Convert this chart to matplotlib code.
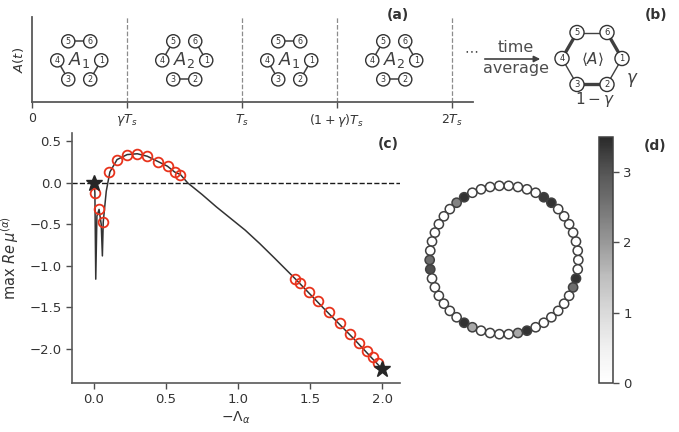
import numpy as np
import matplotlib
matplotlib.use('Agg')
import matplotlib.pyplot as plt
from matplotlib.patches import Circle, FancyArrowPatch
from matplotlib.cm import ScalarMappable
from matplotlib.colors import Normalize, LinearSegmentedColormap

W, H = 679, 432

# ============================================================
# data
# ============================================================
gamma = 0.45

# (a) switching sequence A1 -> A2 -> A1 -> A2
seg_names = [r'$A_1$', r'$A_2$', r'$A_1$', r'$A_2$']
seg_bounds = [0.0, gamma, 1.0, 1.0 + gamma, 2.0]
a_tick_labels = ['0', r'$\gamma T_s$', r'$T_s$', r'$(1+\gamma)T_s$', r'$2T_s$']
edges_A1 = [(5, 6), (4, 3), (2, 1)]
edges_A2 = [(5, 4), (6, 1), (3, 2)]

# (c) max Re mu vs -Lambda
line_x = [0.0, 0.006, 0.012, 0.02, 0.035, 0.05, 0.058, 0.064, 0.085, 0.11,
          0.16, 0.23, 0.30, 0.37, 0.44, 0.51, 0.56, 0.60, 0.65, 0.75, 0.85,
          0.95, 1.05, 1.15, 1.25, 1.40, 1.60, 1.80, 2.0]
line_y = [0.0, -0.12, -1.16, -0.40, -0.32, -0.50, -0.88, -0.47, -0.10, 0.13,
          0.28, 0.34, 0.35, 0.32, 0.26, 0.20, 0.13, 0.10, 0.0, -0.14, -0.29,
          -0.43, -0.57, -0.73, -0.90, -1.16, -1.52, -1.87, -2.24]
circ_x = [0.007, 0.033, 0.060, 0.106, 0.162, 0.227, 0.296, 0.370, 0.442, 0.512,
          0.562, 0.597, 1.397, 1.430, 1.490, 1.557, 1.632, 1.708, 1.778, 1.843,
          1.898, 1.940, 1.975]
circ_y = [-0.12, -0.31, -0.47, 0.13, 0.28, 0.34, 0.35, 0.32, 0.25, 0.20,
          0.13, 0.10, -1.16, -1.21, -1.31, -1.42, -1.56, -1.69, -1.82, -1.93,
          -2.02, -2.10, -2.17]
star_x = [0.0, 2.0]
star_y = [0.0, -2.24]

# (d) ring of nodes, non-zero entries
ring_n = 50
ring_idx = [7, 8, 17, 18, 25, 26, 33, 34, 39, 40, 47, 48]
ring_val = [3.4, 3.3, 3.4, 2.3, 2.6, 3.1, 3.4, 1.8, 1.8, 3.4, 2.6, 3.4]
cbar_max = 3.5
cbar_ticks = [0, 1, 2, 3]


def px_box(x0, y0, x1, y1):
    return [x0 / W, 1 - y1 / H, (x1 - x0) / W, (y1 - y0) / H]


def fpx(x, y):
    return (x / W, 1 - y / H)


def hex_pos():
    return {k: (np.cos(np.deg2rad(-(k - 1) * 60)), np.sin(np.deg2rad(-(k - 1) * 60)))
            for k in range(1, 7)}


def draw_hex(ax, edges, widths, r_node, fs, lab, lab_fs):
    pos = hex_pos()
    for (i, j), lw in zip(edges, widths):
        ax.plot([pos[i][0], pos[j][0]], [pos[i][1], pos[j][1]],
                color='0.25', lw=lw, zorder=1, solid_capstyle='butt')
    for k, (x, y) in pos.items():
        ax.add_patch(Circle((x, y), r_node, facecolor='white', edgecolor='0.2',
                            lw=1.0, zorder=2))
        ax.text(x, y, str(k), ha='center', va='center', fontsize=fs,
                color='0.2', zorder=3)
    ax.text(0, 0, lab, ha='center', va='center', fontsize=lab_fs, color='0.25')
    ax.set_aspect('equal')
    ax.axis('off')


plt.rcParams['font.family'] = 'DejaVu Sans'
plt.rcParams['text.color'] = '0.2'
plt.rcParams['axes.labelcolor'] = '0.2'
plt.rcParams['xtick.color'] = '0.3'
plt.rcParams['ytick.color'] = '0.3'
plt.rcParams['xtick.labelcolor'] = '0.2'
plt.rcParams['ytick.labelcolor'] = '0.2'

fig = plt.figure(figsize=(W / 100, H / 100), dpi=100)

# ============================================================
# (a)
# ============================================================
ax_a = fig.add_axes(px_box(32, 17, 473, 102))
ax_a.set_xlim(0, 2.1)
ax_a.set_ylim(0, 1)
for s in ['top', 'right']:
    ax_a.spines[s].set_visible(False)
for s in ['left', 'bottom']:
    ax_a.spines[s].set_color('0.35')
    ax_a.spines[s].set_linewidth(1.3)
ax_a.set_yticks([])
ax_a.set_xticks(seg_bounds)
ax_a.set_xticklabels(a_tick_labels, fontsize=9)
ax_a.tick_params(axis='x', length=4, width=1.0)
ax_a.set_ylabel(r'$A(t)$', fontsize=9.5, labelpad=4)
for xb in seg_bounds[1:]:
    ax_a.axvline(xb, color='0.55', ls='--', lw=0.9)

inset_w = 62 / 210
inset_h = 62 / 85
for k, name in enumerate(seg_names):
    xc = 0.5 * (seg_bounds[k] + seg_bounds[k + 1])
    sub = ax_a.inset_axes([xc - inset_w / 2, 0.49 - inset_h / 2, inset_w, inset_h],
                          transform=ax_a.transData)
    edges = edges_A1 if name == r'$A_1$' else edges_A2
    draw_hex(sub, edges, [1.1] * 3, 0.3, 5.8, name, 13)
    sub.set_xlim(-1.41, 1.41)
    sub.set_ylim(-1.41, 1.41)

fig.text(*fpx(398, 15), '(a)', fontsize=10, fontweight='bold', ha='center', va='center')
fig.text(*fpx(656, 15), '(b)', fontsize=10, fontweight='bold', ha='center', va='center')

# "... time average ->"
fig.text(*fpx(471, 50), r'$\cdots$', fontsize=10, ha='center', va='center', color='0.3')
fig.text(*fpx(516, 48), 'time', fontsize=11.5, ha='center', va='center', color='0.3')
fig.text(*fpx(516, 69), 'average', fontsize=11.5, ha='center', va='center', color='0.3')
fig.add_artist(FancyArrowPatch(
    fpx(482, 59), fpx(543, 59), transform=fig.transFigure,
    arrowstyle='-|>', mutation_scale=9, color='0.25', lw=1.2))

# ============================================================
# (b)
# ============================================================
ax_b = fig.add_axes(px_box(547, 13, 637, 104))
b_edges = edges_A1 + edges_A2
b_weights = [gamma] * 3 + [1 - gamma] * 3
b_widths = [1.0 if w < 0.5 else 2.4 for w in b_weights]
draw_hex(ax_b, b_edges, b_widths, 0.235, 6, r'$\langle A\rangle$', 11)
ax_b.set_xlim(-1.5, 1.5)
ax_b.set_ylim(-1.5, 1.5)
ax_b.text(1.35, -0.72, r'$\gamma$', fontsize=12, ha='center', va='center', color='0.25')
ax_b.text(0.1, -1.38, r'$1-\gamma$', fontsize=11, ha='center', va='center', color='0.25')

# ============================================================
# (c)
# ============================================================
ax_c = fig.add_axes(px_box(72, 133, 400, 383))
ax_c.axhline(0, color='0.1', ls='--', lw=1.0, zorder=1)
ax_c.plot(line_x, line_y, color='0.2', lw=1.1, zorder=2)
ax_c.plot(circ_x, circ_y, 'o', mfc='none', mec='#e8331c', ms=7, mew=1.3, zorder=3)
ax_c.plot(star_x, star_y, '*', color='0.15', ms=12, zorder=4)
ax_c.set_xlim(-0.153, 2.125)
ax_c.set_ylim(-2.41, 0.6)
ax_c.set_xticks([0.0, 0.5, 1.0, 1.5, 2.0])
ax_c.set_yticks([0.5, 0.0, -0.5, -1.0, -1.5, -2.0])
ax_c.tick_params(labelsize=9.5, length=4, width=1.0)
for s in ['top', 'right']:
    ax_c.spines[s].set_visible(False)
for s in ['left', 'bottom']:
    ax_c.spines[s].set_color('0.35')
    ax_c.spines[s].set_linewidth(1.2)
ax_c.set_xlabel(r'$-\Lambda_\alpha$', fontsize=10, labelpad=2)
ax_c.set_ylabel(r'$\max\ Re\,\mu^{(\alpha)}$', fontsize=10.5, labelpad=6)
ax_c.text(0.995, 0.955, '(c)', transform=ax_c.transAxes, fontsize=10,
          fontweight='bold', ha='right', va='center')

# ============================================================
# (d)
# ============================================================
ax_d = fig.add_axes(px_box(414, 172, 594, 348))
greys = plt.get_cmap('Greys')
cmap = LinearSegmentedColormap.from_list('greys_cut', greys(np.linspace(0, 0.86, 256)))
norm = Normalize(vmin=0, vmax=cbar_max)
vals = np.zeros(ring_n)
vals[ring_idx] = ring_val
theta = 2 * np.pi * np.arange(ring_n) / ring_n
for t, v in zip(theta, vals):
    ax_d.add_patch(Circle((np.cos(t), np.sin(t)), 0.062, facecolor=cmap(norm(v)),
                          edgecolor='0.25', lw=1.1))
ax_d.set_xlim(-1.184, 1.184)
ax_d.set_ylim(-1.184, 1.184)
ax_d.set_aspect('equal')
ax_d.axis('off')

cax = fig.add_axes(px_box(599, 137, 613, 383))
cb = fig.colorbar(ScalarMappable(norm=norm, cmap=cmap), cax=cax, ticks=cbar_ticks)
cb.outline.set_edgecolor('0.25')
cb.outline.set_linewidth(1.1)
cax.tick_params(labelsize=9.5, length=4, width=1.0)
fig.text(*fpx(655, 146), '(d)', fontsize=10, fontweight='bold', ha='center', va='center')

fig.savefig('out.png', dpi=100)
